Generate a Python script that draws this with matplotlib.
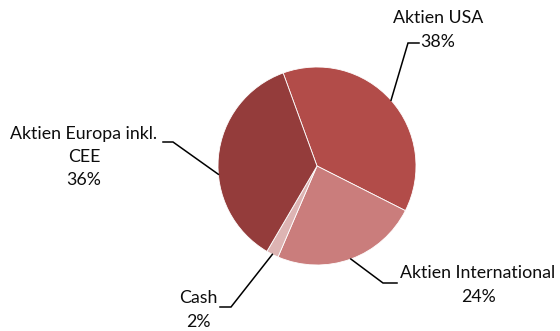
import numpy as np
import matplotlib

matplotlib.use("Agg")

import matplotlib.pyplot as plt

# portfolio allocation
labels = ["Aktien USA", "Aktien International", "Cash", "Aktien Europa inkl.\nCEE"]
shares = [38, 24, 2, 36]
colors = ["#B24C49", "#CA7D7C", "#DDB4B3", "#943C3B"]

W, H = 560, 331
CX, CY, R = 317, H - 166, 99
START = 110

# label placement in pixel space (text centre, elbow, end of horizontal stub)
label_text_xy = [(438, 30), (478, 285), (198, 310), (84, 157)]
elbow_xy = [(408, 43), (383, 283), (231, 307), (173, 142)]
stub_xy = [(419, 43), (397, 283), (220, 307), (163, 142)]
attach_shift = [0, 0, 0, 10]

fig = plt.figure(figsize=(W / 100, H / 100), dpi=100)
ax = fig.add_axes([0, 0, 1, 1])

wedges, _ = ax.pie(
    shares,
    colors=colors,
    startangle=START,
    counterclock=False,
    center=(CX, CY),
    radius=R,
    frame=True,
    wedgeprops=dict(edgecolor="white", linewidth=0.6),
)
ax.set_xlim(0, W)
ax.set_ylim(0, H)
ax.set_aspect("equal")
ax.axis("off")

font = dict(family=["Lato", "DejaVu Sans"], fontsize=12.8, color="#0d0d0d")

for w, lab, val, txy, exy, sxy, shift in zip(
    wedges, labels, shares, label_text_xy, elbow_xy, stub_xy, attach_shift
):
    mid = np.deg2rad((w.theta1 + w.theta2) / 2 + shift)
    px, py = CX + R * np.cos(mid), CY + R * np.sin(mid)
    ax.plot(
        [px, exy[0], sxy[0]],
        [py, H - exy[1], H - sxy[1]],
        color="black",
        linewidth=1.1,
        solid_joinstyle="miter",
    )
    ax.text(
        txy[0], H - txy[1], f"{lab}\n{val}%",
        ha="center", va="center", linespacing=1.55, **font,
    )

fig.savefig("out.png", dpi=100, facecolor="white")
